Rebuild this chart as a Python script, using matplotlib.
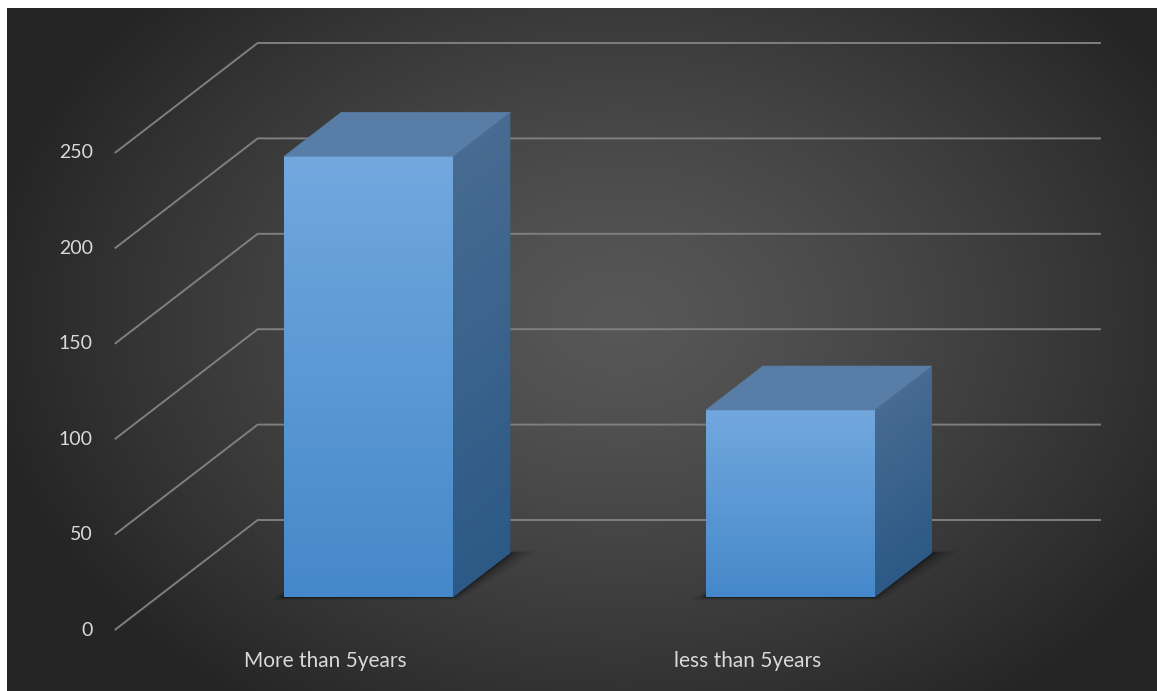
import numpy as np
import matplotlib
matplotlib.use('Agg')
import matplotlib.pyplot as plt
from matplotlib.patches import Polygon
from matplotlib.colors import to_rgb

# Data
categories = ['More than 5years', 'less than 5years']
values = [231, 98]
ticks = [0, 50, 100, 150, 200, 250]

W, H = 1157, 691
# oblique depth offset in data units (category units, value units)
KX = 0.339
KV = 57.65
D0, D1 = 0.3, 0.7
HALF = 0.2


def proj(x, v, d):
    """ Projects a point (category x, value v, depth d) onto the front plane. """
    return (x + KX * d, v + KV * d)


def mix(c1, c2, t):
    a = np.array(to_rgb(c1))
    b = np.array(to_rgb(c2))
    return tuple(a * (1 - t) + b * t)


fig = plt.figure(figsize=(W / 100, H / 100), dpi=100)
fig.patch.set_facecolor('white')

# Background with radial gradient
bg = fig.add_axes([7 / W, 0, (W - 7) / W, (H - 8) / H])
bg.set_axis_off()
yy, xx = np.mgrid[8:H, 7:W]
r = np.sqrt(((xx - 620) / 640.0) ** 2 + ((yy - 320) / 470.0) ** 2)
r = np.clip(r, 0, 1)
shade = 87 - (87 - 37) * r ** 1.3
img = np.dstack([shade, shade, shade]) / 255.0
bg.imshow(img, aspect='auto', extent=[0, 1, 0, 1], interpolation='bilinear')
bg.set_xlim(0, 1)
bg.set_ylim(0, 1)

# Main axes: front plane
left, right = 114.75, 958.0
front0, front250 = 630.0, 153.0
ax = fig.add_axes([left / W, (H - front0) / H, (right - left) / W,
                   (front0 - front250) / H])
ax.set_axis_off()
ax.patch.set_alpha(0)

grid_col = '#7f7f7f'
for t in ticks:
    x0, y0 = proj(0, t, 0)
    x1, y1 = proj(0, t, 1)
    x2, y2 = proj(2, t, 1)
    ax.plot([x0, x1, x2], [y0, y1, y2], color=grid_col, lw=1.4,
            clip_on=False, solid_capstyle='butt', zorder=1)
    ax.text(x0 - 0.052, y0, str(t), ha='right', va='center',
            color='#d9d9d9', fontsize=14, family='Lato', clip_on=False)

for i, name in enumerate(categories):
    ax.text(i + 0.5, -16, name, ha='center', va='center',
            color='#d9d9d9', fontsize=15, family='Lato', clip_on=False)

n_steps = 40
grad = np.linspace(0, 1, 256)[:, None, None]
front_top = np.array(to_rgb('#72a8de'))
front_bot = np.array(to_rgb('#4588ca'))
front_img = front_top * (1 - grad) + front_bot * grad

for i, val in enumerate(values):
    xa, xb = i + 0.5 - HALF, i + 0.5 + HALF
    # soft shadow on the floor
    for k, a in zip([0.05, 0.035, 0.022, 0.012, 0.005],
                    [0.06, 0.09, 0.12, 0.16, 0.25]):
        foot = [proj(xa - k * 0.7, -k * 35, D0),
                proj(xb + k * 0.3, -k * 35, D0),
                proj(xb + k * 1.2, 0, D1 + k * 0.4),
                proj(xa, 0, D1 + k * 0.4)]
        ax.add_patch(Polygon(foot, closed=True, facecolor='black',
                             edgecolor='none', alpha=a, zorder=2,
                             clip_on=False))
    # side face as thin slices for a vertical gradient
    for s in range(n_steps):
        v0 = val * s / n_steps
        v1 = val * (s + 1) / n_steps
        t = 1 - (s + 0.5) / n_steps
        side = [proj(xb, v0, D0), proj(xb, v0, D1), proj(xb, v1, D1),
                proj(xb, v1, D0)]
        c = mix('#476b91', '#2c5986', t)
        ax.add_patch(Polygon(side, closed=True, facecolor=c, edgecolor=c,
                             lw=0.6, zorder=3, clip_on=False))
    # front face: rectangle with gradient image
    fa = proj(xa, 0, D0)
    fb = proj(xb, val, D0)
    ax.imshow(front_img, extent=[fa[0], fb[0], fa[1], fb[1]], aspect='auto',
              origin='upper', zorder=4, interpolation='bilinear',
              clip_on=False)
    top = [proj(xa, val, D0), proj(xb, val, D0), proj(xb, val, D1),
           proj(xa, val, D1)]
    ax.add_patch(Polygon(top, closed=True, facecolor='#587ea7',
                         edgecolor='#587ea7', lw=0.4, zorder=5,
                         clip_on=False))

ax.set_xlim(0, 2)
ax.set_ylim(0, 250)
plt.savefig('out.png', dpi=100)
